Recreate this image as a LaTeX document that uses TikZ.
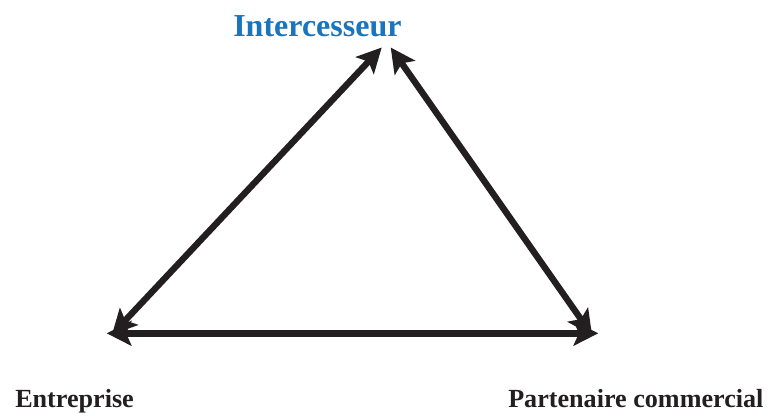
\documentclass[tikz,border=0pt]{standalone}
\usepackage{fontspec}
\setmainfont{Liberation Serif}
\usetikzlibrary{arrows.meta}
\definecolor{inkdark}{HTML}{231F20}
\definecolor{inkblue}{HTML}{1B75BC}
\begin{document}
\begin{tikzpicture}[x=0.75pt,y=-0.75pt,
  lbl/.style={inner sep=0pt, anchor=base west, font=\bfseries\fontsize{19.6}{22}\selectfont, text=inkdark},
  toplbl/.style={inner sep=0pt, anchor=base west, font=\bfseries\fontsize{24}{28}\selectfont, text=inkblue},
  link/.style={draw=inkdark, line width=4.8pt, {Stealth[length=18.5pt,width=18.5pt,inset=4pt]}-{Stealth[length=18.5pt,width=18.5pt,inset=4pt]}}]
\useasboundingbox (0,0) rectangle (768,415);
\node[toplbl] (inter) at (233,36) {Intercesseur};
\node[lbl] (entr) at (15,407) {Entreprise};
\node[lbl] (part) at (508,407) {Partenaire commercial};
\coordinate (topL) at (381.7,47.5);
\coordinate (topR) at (390.7,47.5);
\coordinate (botL) at (112,334.5);
\coordinate (botR) at (592,335);
\coordinate (horL) at (106.7,333.3);
\coordinate (horR) at (598.3,333.3);
\draw[link] (botL) -- (topL);
\draw[link] (topR) -- (botR);
\draw[link] (horL) -- (horR);
\end{tikzpicture}
\end{document}
